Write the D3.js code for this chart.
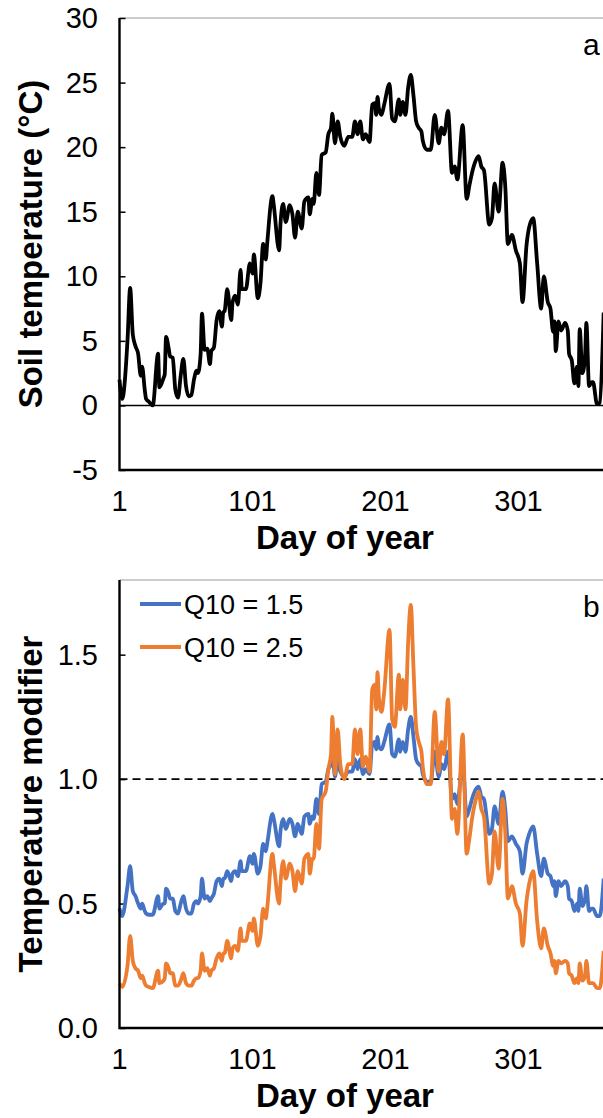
<!DOCTYPE html>
<html>
<head>
<meta charset="utf-8">
<script src="https://cdn.jsdelivr.net/npm/d3@7"></script>
<style>
  body { margin: 0; background: #fff; }
  svg text { font-family: "Liberation Sans", Arial, sans-serif; fill: #000; }
</style>
</head>
<body>
<svg id="chart" width="603" height="1118"></svg>
<script>
// day of year for each sample
const days = [1, 3, 7, 9, 11, 13, 15, 17, 18, 20, 21, 23, 26, 30, 31, 34, 35, 36, 38, 39,
  41, 43, 45, 47, 49, 51, 53, 55, 57, 59, 60, 62, 63, 65, 67, 69, 70, 72, 74, 76,
  78, 79, 80, 82, 85, 86, 88, 90, 92, 93, 96, 99, 101, 102, 105, 107, 109, 111, 112, 116,
  117, 121, 122, 124, 126, 129, 131, 133, 135, 138, 140, 143, 144, 146, 147, 149, 151, 153, 156, 158,
  160, 161, 163, 165, 167, 170, 173, 176, 178, 180, 182, 184, 186, 189, 191, 193, 194, 195, 196, 198,
  200, 204, 206, 208, 211, 212, 214, 216, 218, 220, 222, 224, 226, 228, 229, 232, 235, 238, 241, 243,
  245, 248, 251, 253, 255, 259, 262, 264, 266, 269, 271, 273, 275, 279, 281, 283, 286, 289, 291, 293,
  296, 299, 302, 304, 307, 309, 312, 315, 318, 320, 323, 325, 327, 328, 329, 331, 333, 336, 338, 339,
  341, 343, 345, 346, 347, 349, 351, 352, 354, 356, 357, 360, 362, 365];

// panel a: soil temperature (°C)
const soilTemp = [2.0, 0.5, 5.0, 9.1, 5.5, 4.6, 4.0, 2.3, 3.0, 1.2, 0.5, 0.3, 0.0, 4.0, 1.4, 2.1, 2.4, 5.3, 4.4, 3.8,
  3.7, 1.2, 0.6, 2.3, 3.6, 1.5, 0.7, 0.8, 2.0, 2.7, 2.5, 4.0, 7.1, 4.3, 4.4, 3.2, 4.2, 4.5, 6.6, 7.3,
  6.1, 7.2, 7.3, 9.0, 6.6, 8.0, 8.5, 7.8, 10.5, 9.0, 9.0, 11.0, 10.2, 11.7, 8.3, 9.5, 12.5, 11.3, 12.5, 16.2,
  15.5, 12.0, 14.0, 15.6, 14.2, 15.5, 14.8, 13.0, 15.0, 13.7, 15.8, 16.1, 14.8, 16.0, 15.6, 18.0, 16.3, 19.4, 19.6, 21.0,
  21.5, 22.6, 20.3, 22.0, 20.8, 20.1, 20.8, 20.8, 22.0, 21.0, 22.0, 20.6, 21.0, 20.4, 23.3, 23.4, 22.5, 23.9, 23.0, 22.5,
  23.3, 24.9, 22.2, 22.0, 23.7, 22.5, 23.5, 22.5, 24.6, 25.6, 24.0, 22.0, 21.5, 21.2, 20.5, 19.8, 19.8, 22.5, 20.3, 21.5,
  21.0, 22.8, 18.0, 18.5, 17.5, 21.7, 16.0, 17.0, 18.0, 19.0, 19.3, 18.5, 18.2, 14.0, 14.5, 17.2, 15.0, 18.8, 17.0, 12.5,
  13.2, 12.0, 11.0, 8.0, 12.4, 13.8, 14.5, 11.0, 7.5, 10.0, 8.0, 7.5, 5.7, 6.5, 4.2, 6.5, 5.8, 6.4, 5.8, 4.0,
  3.5, 1.7, 3.0, 1.5, 5.9, 2.5, 3.8, 6.4, 1.5, 1.8, 1.8, 0.1, 0.2, 7.2];

// panel b: temperature modifier, Q10 = 1.5
const modQ15 = [0.48, 0.45, 0.57, 0.65, 0.55, 0.53, 0.5, 0.48, 0.5, 0.47, 0.46, 0.455, 0.455, 0.53, 0.48, 0.5, 0.5, 0.56, 0.54, 0.52,
  0.52, 0.47, 0.46, 0.5, 0.53, 0.48, 0.46, 0.46, 0.5, 0.51, 0.5, 0.53, 0.6, 0.52, 0.53, 0.51, 0.52, 0.54, 0.59, 0.6,
  0.57, 0.6, 0.6, 0.63, 0.59, 0.62, 0.63, 0.61, 0.67, 0.63, 0.63, 0.69, 0.66, 0.7, 0.62, 0.65, 0.74, 0.71, 0.74, 0.86,
  0.84, 0.73, 0.79, 0.84, 0.8, 0.84, 0.82, 0.77, 0.82, 0.78, 0.85, 0.86, 0.82, 0.85, 0.84, 0.92, 0.86, 0.98, 0.99, 1.04,
  1.06, 1.1, 1.01, 1.08, 1.03, 1.01, 1.03, 1.03, 1.08, 1.04, 1.08, 1.02, 1.04, 1.02, 1.14, 1.15, 1.12, 1.17, 1.13, 1.12,
  1.15, 1.22, 1.1, 1.09, 1.16, 1.11, 1.15, 1.11, 1.2, 1.25, 1.17, 1.08, 1.06, 1.05, 1.02, 0.99, 0.99, 1.11, 1.01, 1.06,
  1.04, 1.11, 0.92, 0.94, 0.9, 1.07, 0.85, 0.88, 0.92, 0.96, 0.97, 0.93, 0.92, 0.78, 0.8, 0.89, 0.82, 0.95, 0.88, 0.75,
  0.77, 0.74, 0.71, 0.62, 0.74, 0.78, 0.81, 0.7, 0.61, 0.68, 0.62, 0.61, 0.57, 0.59, 0.53, 0.59, 0.57, 0.59, 0.57, 0.52,
  0.51, 0.47, 0.5, 0.47, 0.56, 0.49, 0.52, 0.57, 0.47, 0.48, 0.48, 0.45, 0.45, 0.6];

// panel b: temperature modifier, Q10 = 2.5
const modQ25 = [0.18, 0.165, 0.25, 0.37, 0.27, 0.24, 0.23, 0.2, 0.21, 0.18, 0.17, 0.165, 0.16, 0.23, 0.18, 0.19, 0.2, 0.26, 0.24, 0.22,
  0.22, 0.17, 0.17, 0.19, 0.22, 0.18, 0.17, 0.17, 0.19, 0.2, 0.2, 0.23, 0.3, 0.23, 0.24, 0.21, 0.23, 0.24, 0.28, 0.3,
  0.27, 0.3, 0.3, 0.35, 0.28, 0.32, 0.33, 0.31, 0.4, 0.35, 0.35, 0.42, 0.39, 0.44, 0.33, 0.37, 0.48, 0.44, 0.48, 0.7,
  0.66, 0.5, 0.58, 0.67, 0.6, 0.66, 0.63, 0.55, 0.63, 0.58, 0.68, 0.7, 0.62, 0.68, 0.68, 0.82, 0.72, 0.92, 0.95, 1.04,
  1.1, 1.25, 1.02, 1.2, 1.06, 1.0, 1.06, 1.06, 1.2, 1.1, 1.2, 1.05, 1.09, 1.03, 1.36, 1.38, 1.28, 1.43, 1.33, 1.27,
  1.35, 1.6, 1.24, 1.21, 1.42, 1.28, 1.4, 1.28, 1.55, 1.7, 1.45, 1.21, 1.15, 1.11, 1.05, 0.98, 0.98, 1.27, 1.03, 1.15,
  1.1, 1.32, 0.84, 0.88, 0.78, 1.18, 0.7, 0.76, 0.84, 0.92, 0.95, 0.88, 0.85, 0.58, 0.62, 0.79, 0.64, 0.92, 0.79, 0.52,
  0.57, 0.5, 0.46, 0.33, 0.51, 0.58, 0.63, 0.43, 0.32, 0.4, 0.33, 0.3, 0.25, 0.27, 0.22, 0.27, 0.26, 0.27, 0.26, 0.22,
  0.21, 0.18, 0.2, 0.18, 0.26, 0.19, 0.21, 0.27, 0.18, 0.18, 0.18, 0.16, 0.16, 0.31];

const xTicks = [1, 101, 201, 301];
const yTicksA = [-5, 0, 5, 10, 15, 20, 25, 30];
const yTicksB = [0, 0.5, 1.0, 1.5];
const legendLabels = ['Q10 = 1.5', 'Q10 = 2.5'];
const colors = ['#4472C4', '#ED7D31'];

const svg = d3.select('#chart');
const left = 119.5;
const right = 605;
const x = d3.scaleLinear().domain([1, 366]).range([left, right]);

function drawPanel (opts) {
  const g = svg.append('g');
  const y = d3.scaleLinear().domain(opts.yDomain).range([opts.bottom, opts.top]);

  // top border of the plot area
  g.append('line')
    .attr('x1', left).attr('x2', right)
    .attr('y1', opts.top).attr('y2', opts.top)
    .attr('stroke', '#9a9a9a').attr('stroke-width', 1.2);

  // y axis, ticks inside
  const yAxis = d3.axisRight(y).tickValues(opts.yTicks).tickSize(6).tickFormat('');
  g.append('g')
    .attr('transform', `translate(${left},0)`)
    .call(yAxis)
    .call(a => a.select('.domain').remove())
    .call(a => a.selectAll('.tick line').attr('stroke', '#000').attr('stroke-width', 1.5));

  g.selectAll('.ylab')
    .data(opts.yTicks)
    .join('text')
    .attr('class', 'ylab')
    .attr('x', 98)
    .attr('y', d => y(d) + 10)
    .attr('text-anchor', 'end')
    .style('font-size', '29px')
    .text(opts.yFormat);

  g.selectAll('.xlab')
    .data(xTicks)
    .join('text')
    .attr('class', 'xlab')
    .attr('x', d => x(d))
    .attr('y', opts.bottom + 41)
    .attr('text-anchor', 'middle')
    .style('font-size', '29px')
    .text(d => d);

  g.append('text')
    .attr('x', 345)
    .attr('y', opts.bottom + 79)
    .attr('text-anchor', 'middle')
    .style('font-size', '33px')
    .style('font-weight', 'bold')
    .text('Day of year');

  g.append('text')
    .attr('transform', `translate(42,${(opts.top + opts.bottom) / 2}) rotate(-90)`)
    .attr('text-anchor', 'middle')
    .style('font-size', '33px')
    .style('font-weight', 'bold')
    .text(opts.yTitle);

  g.append('text')
    .attr('x', 583)
    .attr('y', opts.top + 37)
    .style('font-size', '30px')
    .text(opts.letter);

  return { g, y };
}

// ---- panel a ----
const pa = drawPanel({
  top: 18, bottom: 470, yDomain: [-5, 30], yTicks: yTicksA,
  yFormat: d => d, yTitle: 'Soil temperature (°C)', letter: 'a'
});

pa.g.append('line')
  .attr('x1', left).attr('x2', right)
  .attr('y1', pa.y(0)).attr('y2', pa.y(0))
  .attr('stroke', '#000').attr('stroke-width', 1.6);

pa.g.append('path')
  .datum(days.map((d, i) => [d, soilTemp[i]]))
  .attr('fill', 'none')
  .attr('stroke', '#000')
  .attr('stroke-width', 3.8)
  .attr('stroke-linejoin', 'round')
  .attr('d', d3.line().x(d => x(d[0])).y(d => pa.y(d[1])).curve(d3.curveMonotoneX));

// ---- panel b ----
const pb = drawPanel({
  top: 580, bottom: 1028, yDomain: [0, 1.8], yTicks: yTicksB,
  yFormat: d3.format('.1f'), yTitle: 'Temperature modifier', letter: 'b'
});

pb.g.append('line')
  .attr('x1', left).attr('x2', right)
  .attr('y1', pb.y(1)).attr('y2', pb.y(1))
  .attr('stroke', '#000').attr('stroke-width', 1.8)
  .attr('stroke-dasharray', '8,5');

[modQ15, modQ25].forEach((series, k) => {
  pb.g.append('path')
    .datum(days.map((d, i) => [d, series[i]]))
    .attr('fill', 'none')
    .attr('stroke', colors[k])
    .attr('stroke-width', 3.8)
    .attr('stroke-linejoin', 'round')
    .attr('d', d3.line().x(d => x(d[0])).y(d => pb.y(d[1])).curve(d3.curveMonotoneX));
});

// legend
legendLabels.forEach((lab, k) => {
  const ly = 604 + k * 43;
  pb.g.append('line')
    .attr('x1', 140).attr('x2', 181)
    .attr('y1', ly).attr('y2', ly)
    .attr('stroke', colors[k]).attr('stroke-width', 3.8);
  pb.g.append('text')
    .attr('x', 184)
    .attr('y', ly + 10)
    .style('font-size', '27px')
    .text(lab);
});

// axis lines on top (left and bottom borders)
[pa, pb].forEach((p, k) => {
  const top = k === 0 ? 18 : 580;
  const bottom = k === 0 ? 470 : 1028;
  p.g.append('path')
    .attr('d', `M${left},${top}V${bottom}H${right}`)
    .attr('fill', 'none')
    .attr('stroke', '#000')
    .attr('stroke-width', 2.4);
});
</script>
</body>
</html>
